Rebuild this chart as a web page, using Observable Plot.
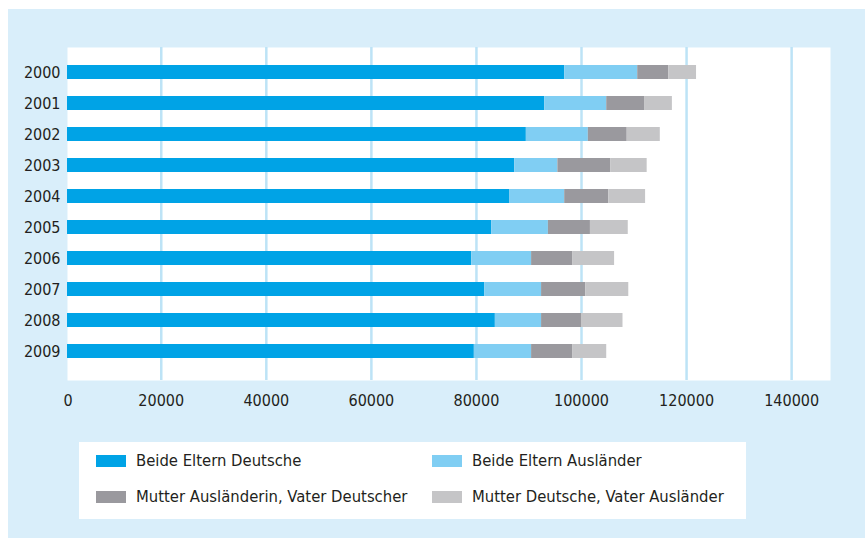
<!DOCTYPE html>
<html>
<head>
<meta charset="utf-8">
<script src="https://cdn.jsdelivr.net/npm/d3@7"></script>
<script src="https://cdn.jsdelivr.net/npm/@observablehq/plot@0.6"></script>
<style>
  html, body { margin: 0; padding: 0; background: #ffffff; }
  #wrap { position: relative; width: 865px; height: 538px; overflow: hidden;
    font-family: "Liberation Sans Narrow", "DejaVu Sans Condensed", sans-serif; font-stretch: condensed; color: #231f20; }
  #panel { position: absolute; left: 8px; top: 9px; width: 857px; height: 529px; background: #d9eefa; }
  #chart { position: absolute; left: 0; top: 0; }
  #legend { position: absolute; left: 79px; top: 442px; width: 667px; height: 77px; background: #ffffff; }
  .item { position: absolute; display: flex; align-items: center; font-size: 16.5px; white-space: nowrap; }
  .sw { width: 30px; height: 12px; margin-right: 10px; }
</style>
</head>
<body>
<div id="wrap">
  <div id="panel"></div>
  <div id="chart"></div>
  <div id="legend"></div>
</div>
<script>
const years = ["2000","2001","2002","2003","2004","2005","2006","2007","2008","2009"];
const seriesNames = ["Beide Eltern Deutsche","Beide Eltern Ausländer","Mutter Ausländerin, Vater Deutscher","Mutter Deutsche, Vater Ausländer"];
const seriesColors = ["#00a3e6","#80cef3","#9a999e","#c5c5c7"];
const beideDeutsche   = [96800, 93000, 89500, 87300, 86300, 82900, 79100, 81600, 83600, 79600];
const beideAuslaender = [13900, 11800, 11800,  8200, 10500, 10800, 11400, 10800,  8800, 10900];
const mutterAuslVaterDt = [5900, 7200, 7400, 10100, 8400, 8000, 7800, 8400, 7600, 7800];
const mutterDtVaterAusl = [5300, 5300, 6300, 6900, 7000, 7200, 8000, 8200, 7900, 6500];
const xTicks = [20000, 40000, 60000, 80000, 100000, 120000, 140000];

const seriesValues = [beideDeutsche, beideAuslaender, mutterAuslVaterDt, mutterDtVaterAusl];
const data = [];
seriesNames.forEach((s, i) => years.forEach((y, j) => data.push({year: y, series: s, value: seriesValues[i][j]})));

const chart = Plot.plot({
  width: 865,
  height: 420,
  marginTop: 47,
  marginBottom: 40,
  marginLeft: 67,
  marginRight: 35,
  style: {background: "transparent", fontFamily: '"Liberation Sans Narrow", "DejaVu Sans Condensed", sans-serif', fontSize: "16px", color: "#231f20"},
  x: {domain: [0, 147400], range: [55.7, 830]},
  y: {domain: years, range: [56.5, 366.5], paddingInner: 0.55, paddingOuter: 0.275},
  color: {domain: seriesNames, range: seriesColors},
  marks: [
    Plot.frame({fill: "#ffffff", stroke: null}),
    Plot.ruleX(xTicks, {stroke: "#bde3f6", strokeWidth: 2.5}),
    Plot.barX(data, Plot.stackX({x: "value", y: "year", fill: "series", order: seriesNames, clip: true})),
    Plot.axisY({tickSize: 0, tickPadding: 7, label: null, fill: "#231f20", fontSize: 16}),
    Plot.axisX(xTicks, {tickSize: 0, tickPadding: 14, tickFormat: "d", label: null, fill: "#231f20", fontSize: 16}),
    Plot.axisX([0], {tickSize: 0, tickPadding: 14, tickFormat: "d", label: null, dx: 12, fill: "#231f20", fontSize: 16})
  ]
});
document.getElementById("chart").appendChild(chart);

const legend = document.getElementById("legend");
const pos = [[17, 20], [353, 20], [17, 56], [353, 56]];
seriesNames.forEach((s, i) => {
  const it = document.createElement("div");
  it.className = "item";
  it.style.left = pos[i][0] + "px";
  it.style.top = (pos[i][1] - 11) + "px";
  const sw = document.createElement("div");
  sw.className = "sw";
  sw.style.background = seriesColors[i];
  const t = document.createElement("span");
  t.textContent = s;
  it.appendChild(sw); it.appendChild(t);
  legend.appendChild(it);
});
</script>
</body>
</html>
